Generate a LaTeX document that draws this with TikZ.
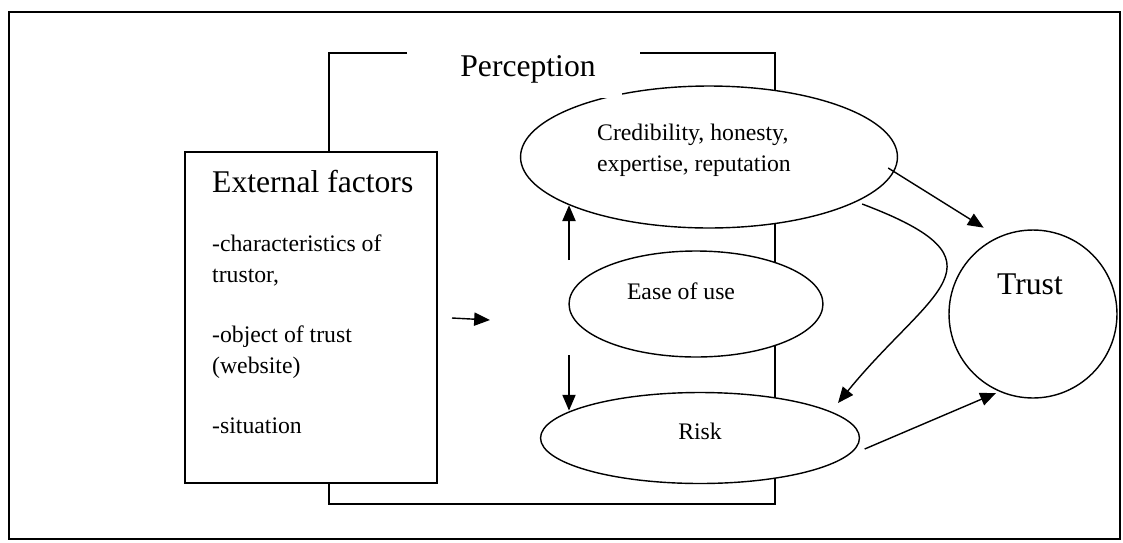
\documentclass[tikz,border=0pt]{standalone}
\usepackage{fontspec}
\setmainfont{Liberation Serif}
\usetikzlibrary{arrows.meta,shapes.geometric}
\tikzset{
  oval/.style={ellipse,draw,fill=white,line width=0.8pt,inner sep=0pt},
  arr/.style={-{Triangle[length=9pt,width=7.5pt]},line width=0.8pt},
  big/.style={font=\fontsize{18}{22}\selectfont},
  small/.style={font=\fontsize{13.5}{17.6}\selectfont},
}
\begin{document}
\begin{tikzpicture}[x=0.02cm,y=-0.02cm]
      \useasboundingbox (0,0) rectangle (1123,542);
      \draw[line width=1.4pt] (9,12) rectangle (1120,539);
      \draw[line width=1pt] (407,53) -- (329,53) -- (329,504) -- (775,504) -- (775,53) -- (640,53);
      \node[draw,fill=white,line width=1pt,minimum width=5.04cm,minimum height=6.62cm] (ext) at (311,317.5) {};
      \node[big,anchor=base west] (exthead) at (206,192) {External factors};
      \node[small,anchor=base west,align=left] (extbody) at (206,433)
        {-characteristics of\\trustor,\\[16.5pt]-object of trust\\(website)\\[16.5pt]-situation};
      \node[oval,minimum width=7.54cm,minimum height=2.84cm] (cred) at (709,157) {};
      \node[oval,minimum width=5.08cm,minimum height=2.12cm] (ease) at (696,304) {};
      \node[oval,minimum width=6.38cm,minimum height=1.82cm] (risk) at (700,438) {};
      \node[circle,draw,fill=white,line width=0.8pt,inner sep=0pt,minimum size=3.36cm] (trust) at (1033,314) {};
      \node[big,fill=white,inner sep=0pt,minimum width=3.76cm,minimum height=1.16cm] (perc) at (528,69) {Perception};
      \node[small,align=left] (credtext) at (694,150.5) {Credibility, honesty,\\expertise, reputation};
      \node[small] (easetext) at (681,291) {Ease of use};
      \node[small] (risktext) at (700,431) {Risk};
      \node[big] (trusttext) at (1030,284.5) {Trust};
      \coordinate (extfoot) at (452,318);
      \coordinate (exttip) at (490,320);
      \coordinate (upfoot) at (569,260);
      \coordinate (downfoot) at (569,355);
      \begin{scope}[arr]
        \draw (extfoot) to (exttip);
        \draw (upfoot) to (upfoot |- cred.199);
        \draw (downfoot) to (downfoot |- risk.168);
        \draw ([shift={(-10,11)}]cred.east) to ([shift={(-7,-13)}]trust.120);
        \draw ([shift={(-36,47)}]cred.east) .. controls +(153.5,58) and +(92,-113) .. ([shift={(138,-35)}]risk.center);
        \draw ([shift={(4.5,11)}]risk.east) to ([shift={(-37,79)}]trust.center);
      \end{scope}
    \end{tikzpicture}
\end{document}
